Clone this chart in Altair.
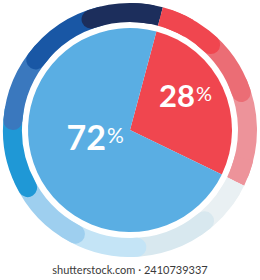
import math
import altair as alt
import pandas as pd

# ---- data ----
pie_labels = ["28", "72"]
pie_values = [28, 72]
pie_colors = ["#f0464f", "#5aaee3"]
pie_offset = 15  # degrees clockwise from 12 o'clock where the first slice starts

# outer ring segments (degrees clockwise from 12 o'clock), listed in drawing order
ring_start = [116, 136, 172, 203, 236, 270, 302, 336, 62, 34, 15]
ring_end = [150, 186, 217, 250, 284, 316, 350, 375, 116, 76, 48]
ring_colors = ["#e9f0f3", "#d8e8ef", "#c4e4f6", "#9ecfef", "#1f98d6", "#3a78be",
               "#1957a5", "#1c2e5c", "#ed939a", "#eb6d75", "#f0464f"]

# square-ended pieces where two ring segments meet flush
flat_start = [360, 15, 104, 116]
flat_end = [375, 30, 116, 126]
flat_colors = ["#1c2e5c", "#f0464f", "#ed939a", "#e9f0f3"]

watermark = "shutterstock.com · 2410739337"

# ---- tables ----
pie_df = pd.DataFrame({"label": pie_labels, "value": pie_values,
                       "color": pie_colors, "idx": list(range(len(pie_labels)))})
ring_df = pd.DataFrame({"s": ring_start, "e": ring_end, "color": ring_colors,
                        "idx": list(range(len(ring_start)))})
flat_df = pd.DataFrame({"s": flat_start, "e": flat_end, "color": flat_colors,
                        "idx": list(range(len(flat_start)))})

theta_scale = alt.Scale(domain=[0, 360], range=[0, 2 * math.pi], nice=False, zero=False)

ring = alt.Chart(ring_df).mark_arc(radius=127, radius2=108, cornerRadius=9.5).encode(
    theta=alt.Theta("s:Q", scale=theta_scale, stack=False),
    theta2="e:Q",
    color=alt.Color("color:N", scale=None),
    order="idx:Q",
)

flat = alt.Chart(flat_df).mark_arc(radius=127, radius2=108).encode(
    theta=alt.Theta("s:Q", scale=theta_scale, stack=False),
    theta2="e:Q",
    color=alt.Color("color:N", scale=None),
    order="idx:Q",
)

pie_base = alt.Chart(pie_df).transform_window(
    cum="sum(value)", sort=[alt.SortField("idx")], frame=[None, 0]
).transform_calculate(
    s=f"(datum.cum - datum.value) * 3.6 + {pie_offset}",
).transform_calculate(
    e=f"datum.cum * 3.6 + {pie_offset}",
).transform_calculate(
    mid="(datum.s + datum.e) / 2",
)

pie = pie_base.mark_arc(radius=102, radius2=0).encode(
    theta=alt.Theta("s:Q", scale=theta_scale, stack=False),
    theta2="e:Q",
    color=alt.Color("color:N", scale=None),
)

def label_layers(lab, r, dx, dy, fs, pfs, pdy):
    b = pie_base.transform_filter(f"datum.label == '{lab}'")
    digits = b.mark_text(radius=r, align="right", baseline="alphabetic", dx=dx, dy=dy,
                         font="Lato", fontWeight="bold", fontSize=fs, color="white").encode(
        theta=alt.Theta("mid:Q", scale=theta_scale, stack=False),
        text="label:N",
    )
    pct = b.mark_text(radius=r, align="left", baseline="alphabetic", dx=dx + 1, dy=dy - pdy,
                      font="Lato", fontWeight="normal", fontSize=pfs, color="white").encode(
        theta=alt.Theta("mid:Q", scale=theta_scale, stack=False),
        text=alt.value("%"),
    )
    return [digits, pct]

labels = label_layers("28", 69, 2.3, 5.7, 31, 20, 6.3) + label_layers("72", 30, 3.3, 7.5, 34, 21, 6.7)

chart = alt.layer(ring, flat, pie, *labels).properties(
    width=260, height=260,
    autosize=alt.AutoSizeParams(type="none"),
    padding={"left": 0, "right": 0, "top": 0, "bottom": 20},
    background="white",
    title=alt.TitleParams(text=watermark, orient="bottom", anchor="middle", offset=14,
                          fontSize=11, font="Lato", fontWeight="normal", color="#3a3a3a",
                          baseline="alphabetic"),
).configure_view(strokeWidth=0)

chart.save("out.html", embed_options={"renderer": "svg", "actions": False})
